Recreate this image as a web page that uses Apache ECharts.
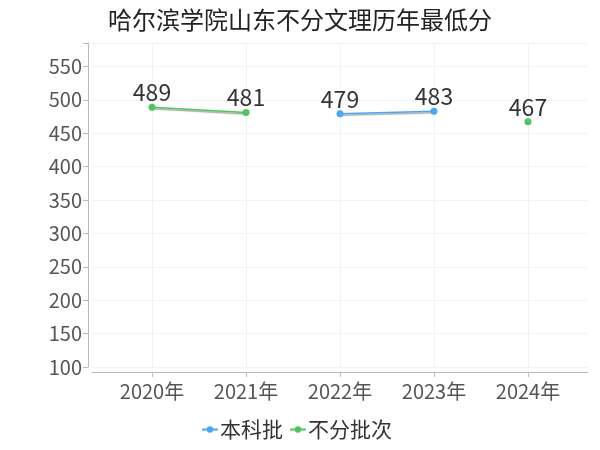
<!DOCTYPE html>
<html><head><meta charset="utf-8">
<script src="https://cdn.jsdelivr.net/npm/echarts@6/dist/echarts.min.js"></script>
<style>html,body{margin:0;padding:0;background:#fff}#c{width:600px;height:450px}</style>
</head><body><div id="c"></div>
<script>
const years = [2020, 2021, 2022, 2023, 2024];
const benkePi = [null, null, 479, 483, null];
const bufenPiCi = [489, 481, null, null, 467];
const seriesNames = ['本科批', '不分批次'];
const titleText = '哈尔滨学院山东不分文理历年最低分';

const toPairs = arr => years.map((y, i) => [y, arr[i] == null ? '-' : arr[i]]);
const font = '"Noto Sans CJK SC", "Noto Sans", sans-serif';
const chart = echarts.init(document.getElementById('c'));
const lineShadow = {width: 1.5, shadowColor: 'rgba(0,0,0,0.35)', shadowBlur: 1, shadowOffsetY: 1.5};
chart.setOption({
  animation: false,
  textStyle: {fontFamily: font},
  title: {text: titleText, left: 'center', top: 3, textStyle: {fontSize: 24, fontWeight: 'normal', color: '#222', fontFamily: font}},
  legend: {
    bottom: 5, left: 196, itemGap: 6, itemWidth: 16, itemHeight: 8,
    textStyle: {fontSize: 21, color: '#333', fontFamily: font, padding: [0, 0, 0, -3]},
    data: seriesNames
  },
  grid: {left: 92, right: 12, top: 43, bottom: 83, containLabel: false},
  xAxis: {
    type: 'value', min: 2020 - 60 / 94, max: 2024 + 60 / 94, offset: 5,
    axisLine: {show: true, lineStyle: {color: '#bbb'}},
    axisTick: {show: true, customValues: years, length: 5, lineStyle: {color: '#bbb'}},
    axisLabel: {customValues: years, formatter: v => v + '年', fontSize: 20, color: '#555', margin: 9, fontFamily: font},
    splitLine: {show: true, lineStyle: {color: '#f2f2f2'}}
  },
  yAxis: {
    type: 'value', min: 100, max: 585, interval: 50, offset: 4,
    axisLine: {show: true, lineStyle: {color: '#bbb'}},
    axisTick: {show: true, length: 5, lineStyle: {color: '#bbb'}},
    axisLabel: {fontSize: 20, color: '#555', margin: 6, fontFamily: font, formatter: v => (v % 50 === 0 ? String(v) : '')},
    splitLine: {show: true, lineStyle: {color: '#f2f2f2'}}
  },
  series: [
    {name: seriesNames[0], type: 'line', data: toPairs(benkePi), symbol: 'circle', symbolSize: 7,
     itemStyle: {color: '#4aa5f5'}, lineStyle: lineShadow,
     label: {show: true, position: 'top', fontSize: 23, color: '#333', distance: 0, fontFamily: font}},
    {name: seriesNames[1], type: 'line', data: toPairs(bufenPiCi), symbol: 'circle', symbolSize: 7,
     itemStyle: {color: '#4fc45f'}, lineStyle: lineShadow,
     label: {show: true, position: 'top', fontSize: 23, color: '#333', distance: 0, fontFamily: font}}
  ]
});
</script></body></html>
